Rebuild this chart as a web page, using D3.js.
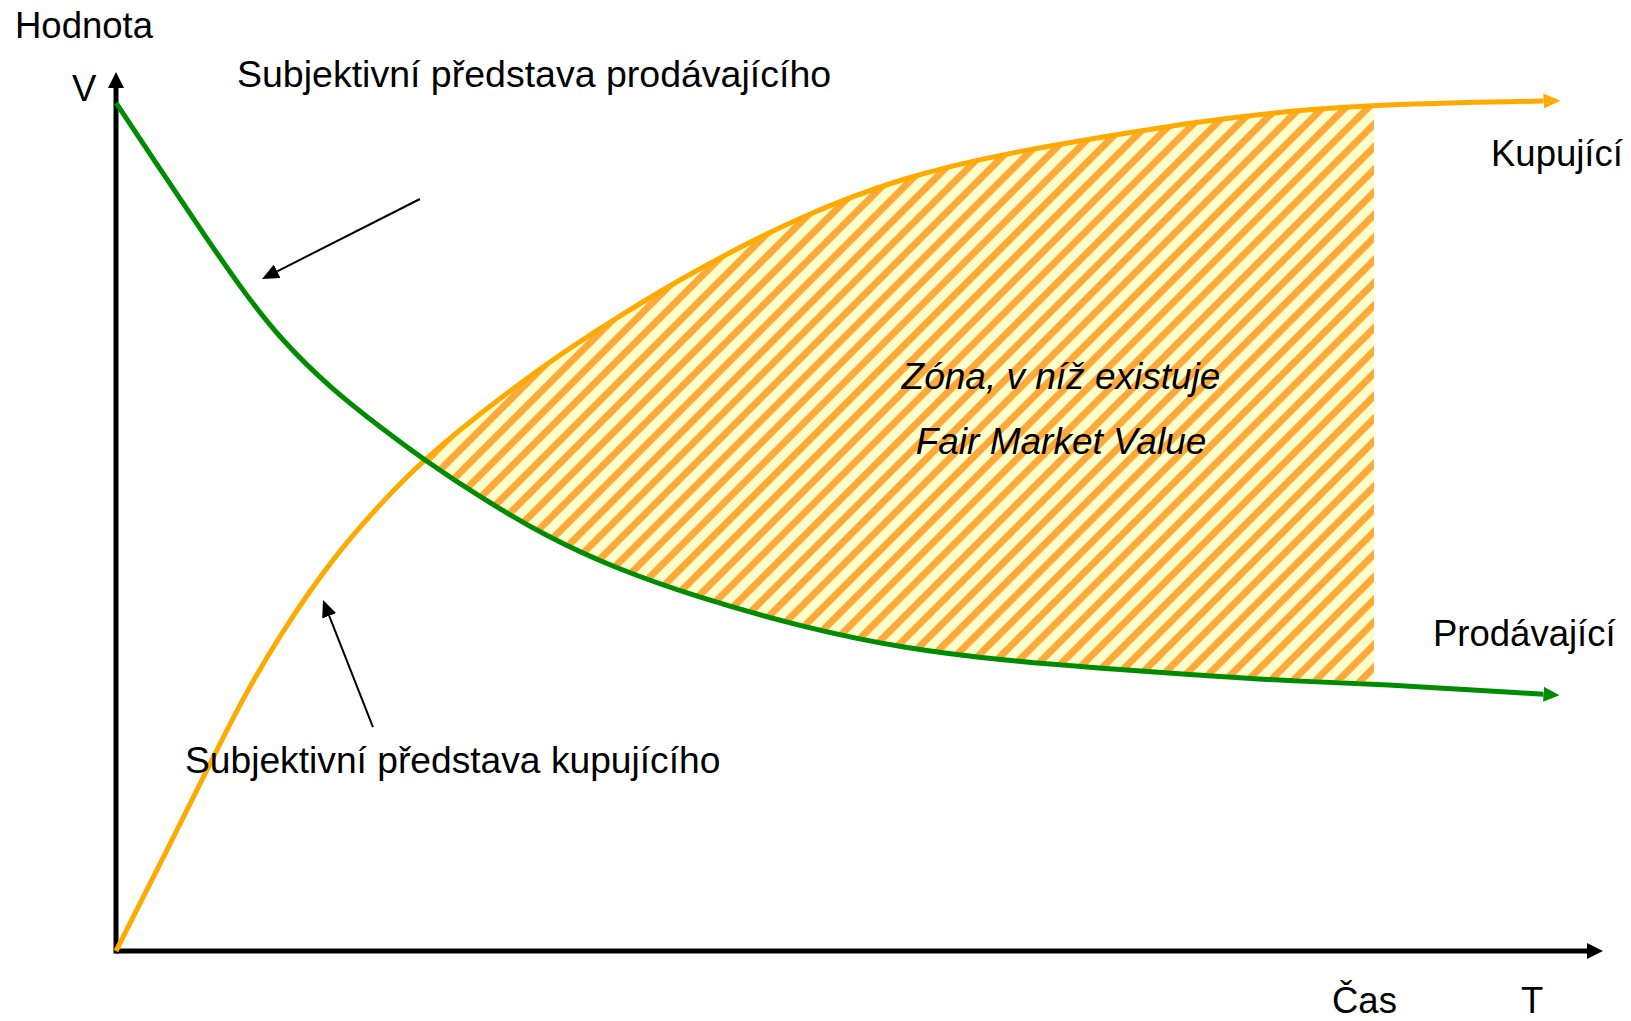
<!DOCTYPE html>
<html>
<head>
<meta charset="utf-8">
<script src="https://cdn.jsdelivr.net/npm/d3@7"></script>
<style>
  body { margin: 0; background: #fff; }
  text { font-family: "Liberation Sans", Arial, sans-serif; font-size: 36.5px; fill: #000; }
</style>
</head>
<body>
<svg id="chart" width="1631" height="1021"></svg>
<script>
// time axis (T) sampling, shared by both curves
const time = [0, 3.5, 6, 8.5, 11, 14.5, 18, 20.7, 24.5, 29, 33.5, 39, 46, 53, 60, 66, 72.5, 79, 84.6, 96];
// subjektivní představa prodávajícího (green)
const seller = [96.5, 87.6, 81.3, 75.2, 69.7, 63.9, 59.3, 55.9, 51.6, 47.1, 43.6, 40.3, 36.9, 34.4, 33.0, 32.2, 31.4, 30.7, 30.4, 29.2];
// subjektivní představa kupujícího (orange)
const buyer = [0, 11.7, 20.2, 28.7, 35.9, 44.6, 51.3, 55.9, 61.2, 66.9, 71.9, 77.5, 83.6, 88.1, 90.8, 92.5, 94.3, 95.6, 96.3, 96.7];
// zone of fair market value: from the crossing to this index
const zoneFrom = 7, zoneTo = 18;

// pointer arrows [tail t, tail v, tip t, tip v]
const pointers = [
    [20.44, 85.55, 9.82, 76.45],
    [17.28, 25.48, 13.92, 39.93]
];

const svg = d3.select('#chart');
const defs = svg.append('defs');

const x = d3.scaleLinear().domain([0, 100]).range([116, 1603]);
const y = d3.scaleLinear().domain([0, 100]).range([951, 72]);

function marker(id, color, len, half) {
    defs.append('marker')
        .attr('id', id)
        .attr('markerUnits', 'userSpaceOnUse')
        .attr('viewBox', `0 ${-half} ${len} ${half * 2}`)
        .attr('markerWidth', len)
        .attr('markerHeight', half * 2)
        .attr('refX', 0)
        .attr('refY', 0)
        .attr('orient', 'auto')
        .append('path')
        .attr('d', `M0,${-half}L${len},0L0,${half}Z`)
        .attr('fill', color);
}
marker('headAxis', '#000', 16, 8);
marker('headGreen', '#008c00', 16, 7.5);
marker('headOrange', '#ffaa00', 17, 7.5);
marker('headThin', '#000', 17, 7.5);

// hatch
const pat = defs.append('pattern')
    .attr('id', 'hatch')
    .attr('patternUnits', 'userSpaceOnUse')
    .attr('width', 16)
    .attr('height', 16)
    .attr('patternTransform', 'rotate(45)');
pat.append('rect').attr('width', 16).attr('height', 16).attr('fill', '#ffffcc');
pat.append('rect').attr('width', 7).attr('height', 16).attr('fill', '#ffa93a');

const rows = time.map((t, i) => ({ t: t, s: seller[i], b: buyer[i] }));
const zone = rows.slice(zoneFrom, zoneTo + 1);

const curve = d3.curveBasis;

svg.append('path')
    .datum(zone)
    .attr('fill', 'url(#hatch)')
    .attr('d', d3.area()
        .x(d => x(d.t))
        .y0(d => y(d.s) - 2)
        .y1(d => y(d.b))
        .curve(curve));

// axes (no ticks, only arrows)
svg.append('line')
    .attr('x1', x(0)).attr('y1', y(0))
    .attr('x2', x(100) - 16).attr('y2', y(0))
    .attr('stroke', '#000').attr('stroke-width', 5)
    .attr('marker-end', 'url(#headAxis)');
svg.append('line')
    .attr('x1', x(0)).attr('y1', y(0) + 2.5)
    .attr('x2', x(0)).attr('y2', y(100) + 16)
    .attr('stroke', '#000').attr('stroke-width', 5)
    .attr('marker-end', 'url(#headAxis)');

const line = key => d3.line()
    .x(d => x(d.t))
    .y(d => y(d[key]))
    .curve(curve);

svg.append('path')
    .datum(rows)
    .attr('fill', 'none')
    .attr('stroke', '#ffaa00')
    .attr('stroke-width', 5)
    .attr('d', line('b'))
    .attr('marker-end', 'url(#headOrange)');

svg.append('path')
    .datum(rows)
    .attr('fill', 'none')
    .attr('stroke', '#008c00')
    .attr('stroke-width', 5)
    .attr('d', line('s'))
    .attr('marker-end', 'url(#headGreen)');

// pointer arrows
svg.selectAll('.pointer')
    .data(pointers)
    .enter().append('line')
    .attr('class', 'pointer')
    .attr('x1', d => x(d[0]))
    .attr('y1', d => y(d[1]))
    .attr('x2', d => {
        const dx = x(d[2]) - x(d[0]), dy = y(d[3]) - y(d[1]);
        return x(d[2]) - dx / Math.hypot(dx, dy) * 17;
    })
    .attr('y2', d => {
        const dx = x(d[2]) - x(d[0]), dy = y(d[3]) - y(d[1]);
        return y(d[3]) - dy / Math.hypot(dx, dy) * 17;
    })
    .attr('stroke', '#000')
    .attr('stroke-width', 2)
    .attr('marker-end', 'url(#headThin)');

// labels
const labels = [
    { text: 'Hodnota', x: 15, y: 38, size: 36.5 },
    { text: 'V', x: 72, y: 101, size: 36.5 },
    { text: 'Subjektivní představa prodávajícího', x: 237, y: 87, size: 37.5 },
    { text: 'Kupující', x: 1491, y: 166, size: 36.5 },
    { text: 'Prodávající', x: 1433, y: 646, size: 36.5 },
    { text: 'Subjektivní představa kupujícího', x: 185, y: 773, size: 37.2 },
    { text: 'Čas', x: 1332, y: 1013, size: 36.5 },
    { text: 'T', x: 1521, y: 1013, size: 36.5 }
];
svg.selectAll('.lbl')
    .data(labels)
    .enter().append('text')
    .attr('class', 'lbl')
    .attr('x', d => d.x)
    .attr('y', d => d.y)
    .style('font-size', d => d.size + 'px')
    .text(d => d.text);

svg.append('text')
    .attr('x', 1061).attr('y', 389)
    .attr('text-anchor', 'middle')
    .style('font-style', 'italic')
    .style('font-size', '37px')
    .text('Zóna, v níž existuje');
svg.append('text')
    .attr('x', 1061).attr('y', 454)
    .attr('text-anchor', 'middle')
    .style('font-style', 'italic')
    .style('font-size', '37px')
    .text('Fair Market Value');
</script>
</body>
</html>
